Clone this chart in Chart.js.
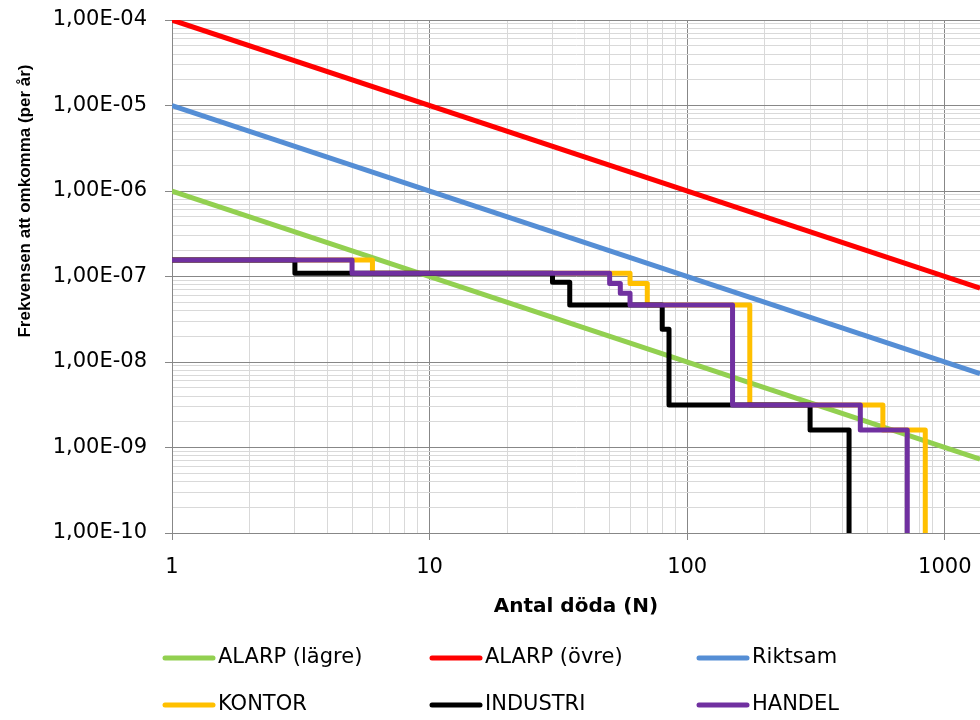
<!DOCTYPE html>
<html>
<head>
<meta charset="utf-8">
<script src="https://cdn.jsdelivr.net/npm/chart.js@4/dist/chart.umd.min.js"></script>
<style>
    html, body { margin: 0; padding: 0; background: #fff; }
</style>
</head>
<body>
<canvas id="grafico" width="980" height="720"></canvas>
<script>
// serier (namn i legendens ordning)
const serieNamn = ['ALARP (lägre)', 'ALARP (övre)', 'Riktsam', 'KONTOR', 'INDUSTRI', 'HANDEL'];
const serieFarg = ['#92D050', '#FF0000', '#558ED5', '#FFC000', '#000000', '#7030A0'];

// kriterielinjer, ändpunkter
const linjeN = [1, 1370];
const alarpLagre = [1e-6, 7.3e-10];
const alarpOvre = [1e-4, 7.3e-8];
const riktsam = [1e-5, 7.3e-9];

// F/N-kurvor (trappsteg)
const kontorN = [1, 6, 60, 70, 175, 575, 840];
const kontorF = [1.56e-7, 1.09e-7, 8.3e-8, 4.64e-8, 3.14e-9, 1.6e-9, 1e-11];
const industriN = [1, 3, 30, 35, 80, 85, 300, 425];
const industriF = [1.56e-7, 1.09e-7, 8.55e-8, 4.64e-8, 2.41e-8, 3.14e-9, 1.6e-9, 1e-11];
const handelN = [1, 5, 50, 55, 60, 150, 470, 715];
const handelF = [1.56e-7, 1.09e-7, 8.3e-8, 6.35e-8, 4.64e-8, 3.14e-9, 1.6e-9, 1e-11];

const xTitel = 'Antal döda (N)';
const yTitel = 'Frekvensen att omkomma (per år)';
const textFont = 'DejaVu Sans';

function punkter(xs, ys) {
    return xs.map((x, i) => ({ x: x, y: ys[i] }));
}

function arHel(v) {
    const l = Math.log10(v);
    return Math.abs(l - Math.round(l)) < 1e-6;
}

function logTicks(min, max) {
    const t = [];
    for (let k = Math.floor(Math.log10(min)); k <= Math.ceil(Math.log10(max)); k++) {
        for (let m = 1; m < 10; m++) {
            const v = m * Math.pow(10, k);
            if (v >= min * 0.999 && v <= max * 1.001) t.push({ value: v });
        }
    }
    return t;
}

function formatE(v) {
    const [man, exp] = v.toExponential(2).split('e');
    const e = parseInt(exp, 10);
    return man.replace('.', ',') + 'E' + (e < 0 ? '-' : '+') + String(Math.abs(e)).padStart(2, '0');
}

function gridFarg(c) {
    if (!c.tick) return '#878787';
    return arHel(c.tick.value) ? '#878787' : '#D9D9D9';
}

function tickFarg(c) {
    if (!c.tick) return '#878787';
    return arHel(c.tick.value) ? '#878787' : 'rgba(0,0,0,0)';
}

function nollPadding(s) {
    s.paddingTop = 0;
    s.paddingBottom = 0;
    s.paddingLeft = 0;
    s.paddingRight = 0;
}

const serieData = [
    punkter(linjeN, alarpLagre),
    punkter(linjeN, alarpOvre),
    punkter(linjeN, riktsam),
    punkter(kontorN, kontorF),
    punkter(industriN, industriF),
    punkter(handelN, handelF)
];

const datasets = serieNamn.map((namn, i) => ({
    label: namn,
    data: serieData[i],
    borderColor: serieFarg[i],
    backgroundColor: serieFarg[i],
    borderWidth: 5,
    pointRadius: 0,
    fill: false,
    tension: 0,
    stepped: i >= 3,
    borderJoinStyle: 'round',
    order: serieNamn.length - i
}));

// y-titel och legend ritas för hand
const egenText = {
    id: 'egenText',
    afterDraw(chart) {
        const ctx = chart.ctx;
        ctx.save();
        ctx.translate(25, 201);
        ctx.rotate(-Math.PI / 2);
        ctx.font = 'bold 17px "Liberation Sans"';
        ctx.fillStyle = '#000';
        ctx.textAlign = 'center';
        ctx.textBaseline = 'middle';
        ctx.fillText(yTitel, 0, 0);
        ctx.restore();

        ctx.save();
        ctx.font = '21px "' + textFont + '"';
        ctx.textBaseline = 'middle';
        ctx.textAlign = 'left';
        chart.data.datasets.forEach((ds, i) => {
            const x = 163 + (i % 3) * 267;
            const y = 658 + Math.floor(i / 3) * 47;
            ctx.strokeStyle = ds.borderColor;
            ctx.lineWidth = 5;
            ctx.lineCap = 'round';
            ctx.beginPath();
            ctx.moveTo(x + 2, y);
            ctx.lineTo(x + 50, y);
            ctx.stroke();
            ctx.fillStyle = '#000';
            ctx.fillText(ds.label, x + 55, y);
        });
        ctx.restore();
    }
};

new Chart(document.getElementById('grafico'), {
    type: 'line',
    data: { datasets: datasets },
    plugins: [egenText],
    options: {
        responsive: false,
        animation: false,
        layout: { padding: { top: 20, left: 0, right: 0, bottom: 95 } },
        plugins: {
            legend: { display: false },
            tooltip: { enabled: false }
        },
        scales: {
            x: {
                type: 'logarithmic',
                position: 'bottom',
                min: 1,
                max: 1370,
                afterBuildTicks: s => { s.ticks = logTicks(s.min, s.max); },
                afterFit: s => { s.height = 92; nollPadding(s); },
                ticks: {
                    autoSkip: false,
                    maxRotation: 0,
                    padding: 15,
                    color: '#000',
                    font: { family: textFont, size: 21 },
                    callback: v => arHel(v) ? String(Math.round(v)) : ''
                },
                grid: { color: gridFarg, tickColor: tickFarg, tickLength: 7, lineWidth: 1 },
                border: { color: '#878787' },
                title: {
                    display: true,
                    text: xTitel,
                    color: '#000',
                    font: { family: textFont, size: 20, weight: 'bold' },
                    padding: { top: 0, bottom: 6 }
                }
            },
            y: {
                type: 'logarithmic',
                min: 1e-10,
                max: 1e-4,
                afterBuildTicks: s => { s.ticks = logTicks(s.min, s.max); },
                afterFit: s => { s.width = 172; nollPadding(s); },
                ticks: {
                    autoSkip: false,
                    padding: 18,
                    color: '#000',
                    font: { family: textFont, size: 21 },
                    callback: v => arHel(v) ? formatE(v) : ''
                },
                grid: { color: gridFarg, tickColor: tickFarg, tickLength: 7, lineWidth: 1 },
                border: { color: '#878787' }
            }
        }
    }
});
</script>
</body>
</html>
